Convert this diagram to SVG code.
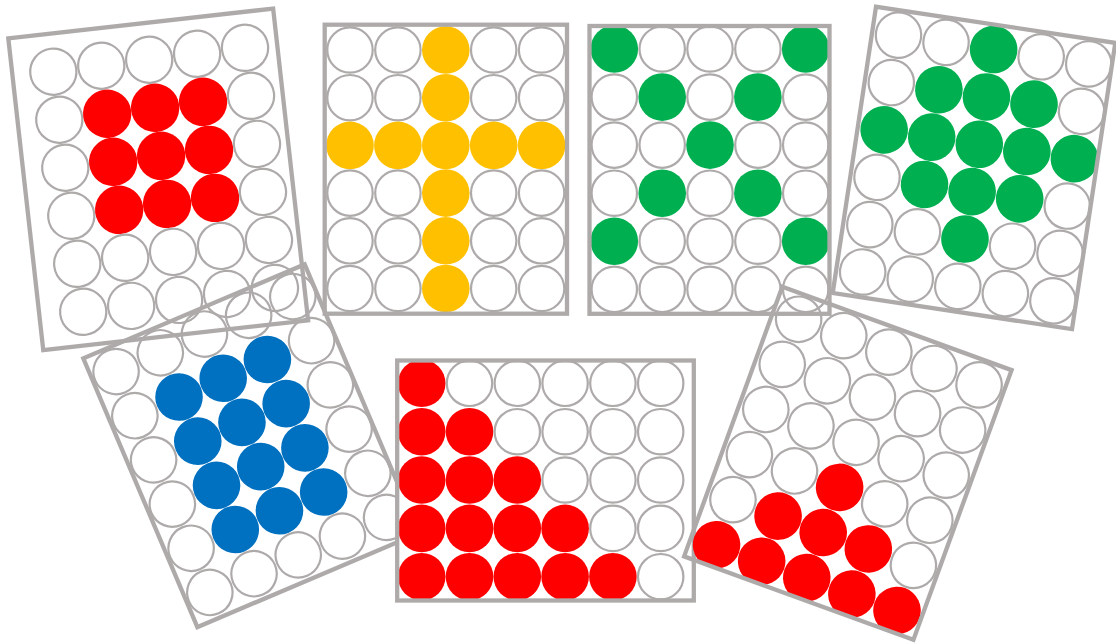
<svg xmlns="http://www.w3.org/2000/svg" width="1116" height="644" viewBox="0 0 1116 644">
<style>
.f{fill:none;stroke:#AEAAAA;stroke-width:4.3}
.w{fill:none;stroke:#AEAAAA;stroke-width:2.2}
.r{fill:#FF0000}.y{fill:#FFC000}.g{fill:#00B050}.b{fill:#0070C0}
</style>
<defs>
<clipPath id="k1"><rect x="0" y="0" width="266.5" height="313.7"/></clipPath>
<clipPath id="k2"><rect x="0" y="0" width="242.3" height="289"/></clipPath>
<clipPath id="k3"><rect x="0" y="0" width="240" height="287.8"/></clipPath>
<clipPath id="k4"><rect x="0" y="0" width="242" height="289.5"/></clipPath>
<clipPath id="k5"><rect x="0" y="0" width="240.5" height="292"/></clipPath>
<clipPath id="k6"><rect x="0" y="0" width="296.6" height="240"/></clipPath>
<clipPath id="k7"><rect x="0" y="0" width="244" height="287"/></clipPath>
</defs>
<rect width="1116" height="644" fill="#FFFFFF"/>

<g id="panel-red-square" transform="translate(8.3,38.3) rotate(-6.4)">
<g clip-path="url(#k1)"><g transform="translate(41,38.2) rotate(-0.7)">
<circle class="w" cx="0" cy="0" r="23.1"/><circle class="w" cx="48.3" cy="0" r="23.1"/><circle class="w" cx="96.6" cy="0" r="23.1"/><circle class="w" cx="144.9" cy="0" r="23.1"/><circle class="w" cx="193.2" cy="0" r="23.1"/>
<circle class="w" cx="0" cy="48.4" r="23.1"/><circle class="r" cx="48.3" cy="48.4" r="24.2"/><circle class="r" cx="96.6" cy="48.4" r="24.2"/><circle class="r" cx="144.9" cy="48.4" r="24.2"/><circle class="w" cx="193.2" cy="48.4" r="23.1"/>
<circle class="w" cx="0" cy="96.8" r="23.1"/><circle class="r" cx="48.3" cy="96.8" r="24.2"/><circle class="r" cx="96.6" cy="96.8" r="24.2"/><circle class="r" cx="144.9" cy="96.8" r="24.2"/><circle class="w" cx="193.2" cy="96.8" r="23.1"/>
<circle class="w" cx="0" cy="145.2" r="23.1"/><circle class="r" cx="48.3" cy="145.2" r="24.2"/><circle class="r" cx="96.6" cy="145.2" r="24.2"/><circle class="r" cx="144.9" cy="145.2" r="24.2"/><circle class="w" cx="193.2" cy="145.2" r="23.1"/>
<circle class="w" cx="0" cy="193.6" r="23.1"/><circle class="w" cx="48.3" cy="193.6" r="23.1"/><circle class="w" cx="96.6" cy="193.6" r="23.1"/><circle class="w" cx="144.9" cy="193.6" r="23.1"/><circle class="w" cx="193.2" cy="193.6" r="23.1"/>
<circle class="w" cx="0" cy="242" r="23.1"/><circle class="w" cx="48.3" cy="242" r="23.1"/><circle class="w" cx="96.6" cy="242" r="23.1"/><circle class="w" cx="144.9" cy="242" r="23.1"/><circle class="w" cx="193.2" cy="242" r="23.1"/>
</g></g>
<rect class="f" x="0" y="0" width="266.5" height="313.7"/>
</g>

<g id="panel-blue" transform="translate(83.3,358.3) rotate(-23)">
<g clip-path="url(#k5)">
<circle class="w" cx="25" cy="25" r="22.7"/><circle class="w" cx="73" cy="25" r="22.7"/><circle class="w" cx="121" cy="25" r="22.7"/><circle class="w" cx="169" cy="25" r="22.7"/><circle class="w" cx="217" cy="25" r="22.7"/>
<circle class="w" cx="25" cy="73" r="22.7"/><circle class="b" cx="73" cy="73" r="23.8"/><circle class="b" cx="121" cy="73" r="23.8"/><circle class="b" cx="169" cy="73" r="23.8"/><circle class="w" cx="217" cy="73" r="22.7"/>
<circle class="w" cx="25" cy="121" r="22.7"/><circle class="b" cx="73" cy="121" r="23.8"/><circle class="b" cx="121" cy="121" r="23.8"/><circle class="b" cx="169" cy="121" r="23.8"/><circle class="w" cx="217" cy="121" r="22.7"/>
<circle class="w" cx="25" cy="169" r="22.7"/><circle class="b" cx="73" cy="169" r="23.8"/><circle class="b" cx="121" cy="169" r="23.8"/><circle class="b" cx="169" cy="169" r="23.8"/><circle class="w" cx="217" cy="169" r="22.7"/>
<circle class="w" cx="25" cy="217" r="22.7"/><circle class="b" cx="73" cy="217" r="23.8"/><circle class="b" cx="121" cy="217" r="23.8"/><circle class="b" cx="169" cy="217" r="23.8"/><circle class="w" cx="217" cy="217" r="22.7"/>
<circle class="w" cx="25" cy="265" r="22.7"/><circle class="w" cx="73" cy="265" r="22.7"/><circle class="w" cx="121" cy="265" r="22.7"/><circle class="w" cx="169" cy="265" r="22.7"/><circle class="w" cx="217" cy="265" r="22.7"/>
</g>
<rect class="f" x="0" y="0" width="240.5" height="292"/>
</g>

<g id="panel-red-stairs" transform="translate(397.2,360.5)">
<rect x="0" y="0" width="296.6" height="240" fill="#FFFFFF"/>
<g clip-path="url(#k6)">
<circle class="r" cx="24.5" cy="22.8" r="23.8"/><circle class="w" cx="72.3" cy="22.8" r="22.7"/><circle class="w" cx="120.1" cy="22.8" r="22.7"/><circle class="w" cx="167.9" cy="22.8" r="22.7"/><circle class="w" cx="215.7" cy="22.8" r="22.7"/><circle class="w" cx="263.5" cy="22.8" r="22.7"/>
<circle class="r" cx="24.5" cy="71.2" r="23.8"/><circle class="r" cx="72.3" cy="71.2" r="23.8"/><circle class="w" cx="120.1" cy="71.2" r="22.7"/><circle class="w" cx="167.9" cy="71.2" r="22.7"/><circle class="w" cx="215.7" cy="71.2" r="22.7"/><circle class="w" cx="263.5" cy="71.2" r="22.7"/>
<circle class="r" cx="24.5" cy="119.5" r="23.8"/><circle class="r" cx="72.3" cy="119.5" r="23.8"/><circle class="r" cx="120.1" cy="119.5" r="23.8"/><circle class="w" cx="167.9" cy="119.5" r="22.7"/><circle class="w" cx="215.7" cy="119.5" r="22.7"/><circle class="w" cx="263.5" cy="119.5" r="22.7"/>
<circle class="r" cx="24.5" cy="167.9" r="23.8"/><circle class="r" cx="72.3" cy="167.9" r="23.8"/><circle class="r" cx="120.1" cy="167.9" r="23.8"/><circle class="r" cx="167.9" cy="167.9" r="23.8"/><circle class="w" cx="215.7" cy="167.9" r="22.7"/><circle class="w" cx="263.5" cy="167.9" r="22.7"/>
<circle class="r" cx="24.5" cy="216.2" r="23.8"/><circle class="r" cx="72.3" cy="216.2" r="23.8"/><circle class="r" cx="120.1" cy="216.2" r="23.8"/><circle class="r" cx="167.9" cy="216.2" r="23.8"/><circle class="r" cx="215.7" cy="216.2" r="23.8"/><circle class="w" cx="263.5" cy="216.2" r="22.7"/>
</g>
<rect class="f" x="0" y="0" width="296.6" height="240"/>
</g>

<g id="panel-yellow-cross" transform="translate(324.7,24.7)">
<g clip-path="url(#k2)">
<circle class="w" cx="25.3" cy="25.3" r="22.7"/><circle class="w" cx="73.2" cy="25.3" r="22.7"/><circle class="y" cx="121.1" cy="25.3" r="23.8"/><circle class="w" cx="169" cy="25.3" r="22.7"/><circle class="w" cx="216.9" cy="25.3" r="22.7"/>
<circle class="w" cx="25.3" cy="73" r="22.7"/><circle class="w" cx="73.2" cy="73" r="22.7"/><circle class="y" cx="121.1" cy="73" r="23.8"/><circle class="w" cx="169" cy="73" r="22.7"/><circle class="w" cx="216.9" cy="73" r="22.7"/>
<circle class="y" cx="25.3" cy="120.7" r="23.8"/><circle class="y" cx="73.2" cy="120.7" r="23.8"/><circle class="y" cx="121.1" cy="120.7" r="23.8"/><circle class="y" cx="169" cy="120.7" r="23.8"/><circle class="y" cx="216.9" cy="120.7" r="23.8"/>
<circle class="w" cx="25.3" cy="168.4" r="22.7"/><circle class="w" cx="73.2" cy="168.4" r="22.7"/><circle class="y" cx="121.1" cy="168.4" r="23.8"/><circle class="w" cx="169" cy="168.4" r="22.7"/><circle class="w" cx="216.9" cy="168.4" r="22.7"/>
<circle class="w" cx="25.3" cy="216.1" r="22.7"/><circle class="w" cx="73.2" cy="216.1" r="22.7"/><circle class="y" cx="121.1" cy="216.1" r="23.8"/><circle class="w" cx="169" cy="216.1" r="22.7"/><circle class="w" cx="216.9" cy="216.1" r="22.7"/>
<circle class="w" cx="25.3" cy="263.8" r="22.7"/><circle class="w" cx="73.2" cy="263.8" r="22.7"/><circle class="y" cx="121.1" cy="263.8" r="23.8"/><circle class="w" cx="169" cy="263.8" r="22.7"/><circle class="w" cx="216.9" cy="263.8" r="22.7"/>
</g>
<rect class="f" x="0" y="0" width="242.3" height="289"/>
</g>

<g id="panel-green-x" transform="translate(589.5,26)">
<g clip-path="url(#k3)">
<circle class="g" cx="24.8" cy="23" r="23.8"/><circle class="w" cx="72.7" cy="23" r="22.7"/><circle class="w" cx="120.5" cy="23" r="22.7"/><circle class="w" cx="168.4" cy="23" r="22.7"/><circle class="g" cx="216.2" cy="23" r="23.8"/>
<circle class="w" cx="24.8" cy="71.1" r="22.7"/><circle class="g" cx="72.7" cy="71.1" r="23.8"/><circle class="w" cx="120.5" cy="71.1" r="22.7"/><circle class="g" cx="168.4" cy="71.1" r="23.8"/><circle class="w" cx="216.2" cy="71.1" r="22.7"/>
<circle class="w" cx="24.8" cy="119.1" r="22.7"/><circle class="w" cx="72.7" cy="119.1" r="22.7"/><circle class="g" cx="120.5" cy="119.1" r="23.8"/><circle class="w" cx="168.4" cy="119.1" r="22.7"/><circle class="w" cx="216.2" cy="119.1" r="22.7"/>
<circle class="w" cx="24.8" cy="167.2" r="22.7"/><circle class="g" cx="72.7" cy="167.2" r="23.8"/><circle class="w" cx="120.5" cy="167.2" r="22.7"/><circle class="g" cx="168.4" cy="167.2" r="23.8"/><circle class="w" cx="216.2" cy="167.2" r="22.7"/>
<circle class="g" cx="24.8" cy="215.2" r="23.8"/><circle class="w" cx="72.7" cy="215.2" r="22.7"/><circle class="w" cx="120.5" cy="215.2" r="22.7"/><circle class="w" cx="168.4" cy="215.2" r="22.7"/><circle class="g" cx="216.2" cy="215.2" r="23.8"/>
<circle class="w" cx="24.8" cy="263.3" r="22.7"/><circle class="w" cx="72.7" cy="263.3" r="22.7"/><circle class="w" cx="120.5" cy="263.3" r="22.7"/><circle class="w" cx="168.4" cy="263.3" r="22.7"/><circle class="w" cx="216.2" cy="263.3" r="22.7"/>
</g>
<rect class="f" x="0" y="0" width="240" height="287.8"/>
</g>

<g id="panel-green-diamond" transform="translate(876,6.7) rotate(8.6)">
<g clip-path="url(#k4)">
<circle class="w" cx="26.5" cy="24.8" r="22.7"/><circle class="w" cx="74.6" cy="24.8" r="22.7"/><circle class="g" cx="122.7" cy="24.8" r="23.8"/><circle class="w" cx="170.8" cy="24.8" r="22.7"/><circle class="w" cx="218.9" cy="24.8" r="22.7"/>
<circle class="w" cx="26.5" cy="72.7" r="22.7"/><circle class="g" cx="74.6" cy="72.7" r="23.8"/><circle class="g" cx="122.7" cy="72.7" r="23.8"/><circle class="g" cx="170.8" cy="72.7" r="23.8"/><circle class="w" cx="218.9" cy="72.7" r="22.7"/>
<circle class="g" cx="26.5" cy="120.6" r="23.8"/><circle class="g" cx="74.6" cy="120.6" r="23.8"/><circle class="g" cx="122.7" cy="120.6" r="23.8"/><circle class="g" cx="170.8" cy="120.6" r="23.8"/><circle class="g" cx="218.9" cy="120.6" r="23.8"/>
<circle class="w" cx="26.5" cy="168.5" r="22.7"/><circle class="g" cx="74.6" cy="168.5" r="23.8"/><circle class="g" cx="122.7" cy="168.5" r="23.8"/><circle class="g" cx="170.8" cy="168.5" r="23.8"/><circle class="w" cx="218.9" cy="168.5" r="22.7"/>
<circle class="w" cx="26.5" cy="216.4" r="22.7"/><circle class="w" cx="74.6" cy="216.4" r="22.7"/><circle class="g" cx="122.7" cy="216.4" r="23.8"/><circle class="w" cx="170.8" cy="216.4" r="22.7"/><circle class="w" cx="218.9" cy="216.4" r="22.7"/>
<circle class="w" cx="26.5" cy="264.3" r="22.7"/><circle class="w" cx="74.6" cy="264.3" r="22.7"/><circle class="w" cx="122.7" cy="264.3" r="22.7"/><circle class="w" cx="170.8" cy="264.3" r="22.7"/><circle class="w" cx="218.9" cy="264.3" r="22.7"/>
</g>
<rect class="f" x="0" y="0" width="242" height="289.5"/>
</g>

<g id="panel-red-triangle" transform="translate(782.3,286.7) rotate(20)">
<g clip-path="url(#k7)">
<circle class="w" cx="26.5" cy="25" r="22.7"/><circle class="w" cx="74.5" cy="25" r="22.7"/><circle class="w" cx="122.5" cy="25" r="22.7"/><circle class="w" cx="170.5" cy="25" r="22.7"/><circle class="w" cx="218.5" cy="25" r="22.7"/>
<circle class="w" cx="26.5" cy="73" r="22.7"/><circle class="w" cx="74.5" cy="73" r="22.7"/><circle class="w" cx="122.5" cy="73" r="22.7"/><circle class="w" cx="170.5" cy="73" r="22.7"/><circle class="w" cx="218.5" cy="73" r="22.7"/>
<circle class="w" cx="26.5" cy="121" r="22.7"/><circle class="w" cx="74.5" cy="121" r="22.7"/><circle class="w" cx="122.5" cy="121" r="22.7"/><circle class="w" cx="170.5" cy="121" r="22.7"/><circle class="w" cx="218.5" cy="121" r="22.7"/>
<circle class="w" cx="26.5" cy="169" r="22.7"/><circle class="w" cx="74.5" cy="169" r="22.7"/><circle class="r" cx="122.5" cy="169" r="23.8"/><circle class="w" cx="170.5" cy="169" r="22.7"/><circle class="w" cx="218.5" cy="169" r="22.7"/>
<circle class="w" cx="26.5" cy="217" r="22.7"/><circle class="r" cx="74.5" cy="217" r="23.8"/><circle class="r" cx="122.5" cy="217" r="23.8"/><circle class="r" cx="170.5" cy="217" r="23.8"/><circle class="w" cx="218.5" cy="217" r="22.7"/>
<circle class="r" cx="26.5" cy="265" r="23.8"/><circle class="r" cx="74.5" cy="265" r="23.8"/><circle class="r" cx="122.5" cy="265" r="23.8"/><circle class="r" cx="170.5" cy="265" r="23.8"/><circle class="r" cx="218.5" cy="265" r="23.8"/>
</g>
<rect class="f" x="0" y="0" width="244" height="287"/>
</g>
</svg>
